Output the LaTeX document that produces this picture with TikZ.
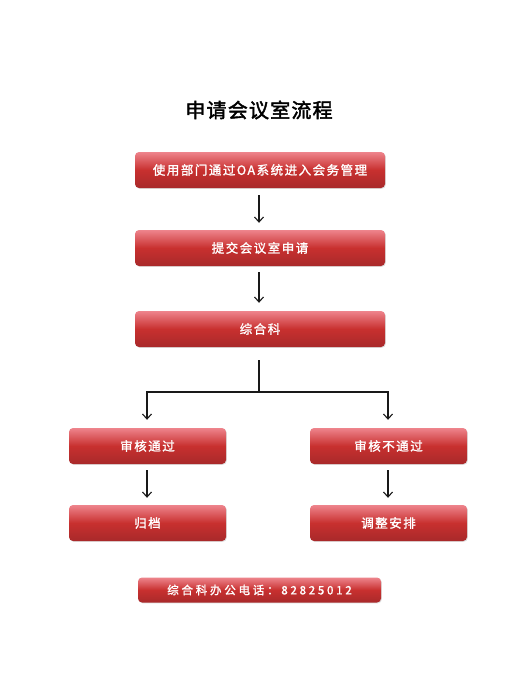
\documentclass[tikz,border=0pt]{standalone}
\usepackage{fontspec}
\setmainfont{Noto Sans CJK SC}
\newfontfamily\titlefont[LetterSpace=6,FakeBold=2]{Noto Sans CJK SC}
\newfontfamily\boxfont[LetterSpace=12,FakeBold=1.5]{Noto Sans CJK SC}
\newfontfamily\footfont[LetterSpace=24,FakeBold=1.5]{Noto Sans CJK SC}
\usetikzlibrary{arrows.meta,shadows}
\definecolor{redtop}{HTML}{EE848C}
\definecolor{redmid}{HTML}{C8302F}
\definecolor{redbot}{HTML}{A8292A}
\begin{document}
\begin{tikzpicture}[x=1pt,y=-1pt,
  box/.style={rounded corners=4pt,top color=redtop,bottom color=redbot,middle color=redmid,
    draw=none,text=white,font=\boxfont\fontsize{12.5}{14}\selectfont,inner sep=0pt,
    drop shadow={shadow xshift=0.8pt,shadow yshift=-0.8pt,opacity=0.25}},
  arr/.style={-{Straight Barb[length=5pt,width=9pt]},line width=1.1pt,black!90}]
\useasboundingbox (0,0) rectangle (526,693);
\fill[white] (0,0) rectangle (526,693);
\node[font=\titlefont\fontsize{20}{22}\selectfont] (title) at (259,110) {申请会议室流程};
\node[box,minimum width=250pt,minimum height=36pt] (b1) at (260,170) {使用部门通过OA系统进入会务管理};
\node[box,minimum width=250pt,minimum height=36pt] (b2) at (260,248) {提交会议室申请};
\node[box,minimum width=250pt,minimum height=36pt] (b3) at (260,329) {综合科};
\node[box,minimum width=157pt,minimum height=36pt] (l1) at (147.5,446) {审核通过};
\node[box,minimum width=157pt,minimum height=36pt] (r1) at (388.5,446) {审核不通过};
\node[box,minimum width=157pt,minimum height=36pt] (l2) at (147.5,523) {归档};
\node[box,minimum width=157pt,minimum height=36pt] (r2) at (388.5,523) {调整安排};
\node[box,minimum width=243pt,minimum height=25pt,font=\footfont\fontsize{11.5}{12}\selectfont] (ft) at (259.5,590) {综合科办公电话：82825012};
\coordinate (s) at (259,360);
\coordinate (j) at (259,392);
\coordinate (jl) at (147,392);
\coordinate (jr) at (388,392);
\draw[arr] ([yshift=-7pt]b1.south -| j) -- ([yshift=7pt]b2.north -| j);
\draw[arr] ([yshift=-6pt]b2.south -| j) -- ([yshift=8pt]b3.north -| j);
\draw[line width=1.1pt,black!90] (s) -- (j);
\draw[line width=1.1pt,black!90,line cap=rect] (jl) -- (jr);
\draw[arr] (jl) -- ([yshift=8pt]l1.north -| jl);
\draw[arr] (jr) -- ([yshift=8pt]r1.north -| jr);
\draw[arr] ([yshift=-6pt]l1.south -| jl) -- ([yshift=7pt]l2.north -| jl);
\draw[arr] ([yshift=-6pt]r1.south -| jr) -- ([yshift=7pt]r2.north -| jr);
\end{tikzpicture}
\end{document}
